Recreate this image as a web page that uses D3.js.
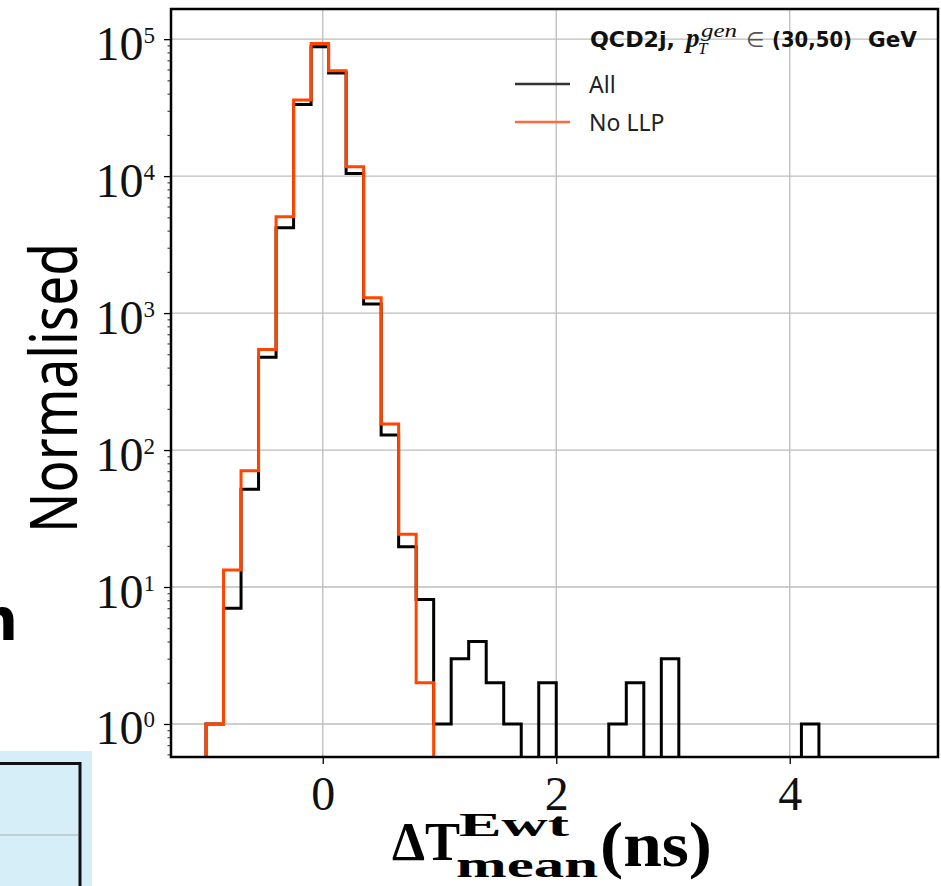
<!DOCTYPE html>
<html><head><meta charset="utf-8">
<script src="https://cdn.jsdelivr.net/npm/d3@7"></script>
<style>body{margin:0;background:#fff;} svg{display:block}</style>
</head><body>
<svg id="chart" width="941" height="886"></svg>
<script>
// ---------------- data ----------------
const binEdges = [-1.0,-0.85,-0.7,-0.55,-0.4,-0.25,-0.1,0.05,0.2,0.35,0.5,0.65,0.8,0.95,1.1,1.25,1.4,1.55,1.7,1.85,2.0,2.15,2.3,2.45,2.6,2.75,2.9,3.05,3.2,3.35,3.5,3.65,3.8,3.95,4.1,4.25,4.4,4.55,4.7,4.85,5.0];
const allValues = [1,7,51.7,475,4195,33350,87900,56700,10470,1163,129,19.7,8.1,1,3,4,2,1,0,2,0,0,0,1,2,0,3,0,0,0,0,0,0,0,1,0,0,0,0,0];
const noLLPValues = [1,13.3,70.6,543,5045,35880,93000,58700,11700,1294,155,24.3,2,0,0,0,0,0,0,0,0,0,0,0,0,0,0,0,0,0,0,0,0,0,0,0,0,0,0,0];
const seriesNames = ["All","No LLP"];
const seriesColors = ["#000000","#ff4500"];
const xTickValues = [0,2,4];
const xTickLabels = ["0","2","4"];
const yTickValues = [1,10,100,1000,10000,100000];
const yTickExponents = ["0","1","2","3","4","5"];
const titleParts = ["QCD2j,","p","T","gen","\u2208","(30,50)","GeV"];
const xLabelParts = ["\u0394T","Ewt","mean","(ns)"];

// ---------------- layout ----------------
const svg = d3.select("#chart");
const L = 171, R = 938, T = 9, B = 757;
const x = d3.scaleLinear().domain([-1.3, 5.27]).range([L, R]);
const y = d3.scaleLog().domain([0.574, 1.66e5]).range([B, T]);

// decorative fragments of neighbouring slide content
svg.append("rect").attr("x",0).attr("y",751).attr("width",92).attr("height",135).attr("fill","#d6eef8");
svg.append("line").attr("x1",0).attr("x2",79).attr("y1",835).attr("y2",835).attr("stroke","#b8c4c8").attr("stroke-width",1.5);
svg.append("path").attr("d","M0,763.5H80V886").attr("fill","none").attr("stroke","#111").attr("stroke-width",3);
svg.append("text").attr("x",18).attr("y",640).attr("text-anchor","end")
  .attr("font-family","DejaVu Sans").attr("font-weight","bold").attr("font-size",58).attr("fill","#000").text("n");

// clip
svg.append("defs").append("clipPath").attr("id","plotclip")
  .append("rect").attr("x",L).attr("y",T).attr("width",R-L).attr("height",B-T);

// grid
const grid = svg.append("g");
grid.selectAll(".gx").data(xTickValues).join("line")
  .attr("x1",d=>x(d)).attr("x2",d=>x(d)).attr("y1",T).attr("y2",B)
  .attr("stroke","#bdbdbd").attr("stroke-width",1.3);
grid.selectAll(".gy").data(yTickValues).join("line")
  .attr("x1",L).attr("x2",R).attr("y1",d=>y(d)).attr("y2",d=>y(d))
  .attr("stroke","#bdbdbd").attr("stroke-width",1.3);

// histograms (step)
function stepPoints(vals){
  const pts = [[binEdges[0], 0]];
  vals.forEach((v,i)=>{ pts.push([binEdges[i], v]); pts.push([binEdges[i+1], v]); });
  pts.push([binEdges[binEdges.length-1], 0]);
  return pts;
}
const line = d3.line().x(d=>x(d[0])).y(d=> d[1] > 0 ? y(d[1]) : B + 30);
const hg = svg.append("g").attr("clip-path","url(#plotclip)");
[allValues, noLLPValues].forEach((vals,i)=>{
  hg.append("path").attr("d", line(stepPoints(vals)))
    .attr("fill","none").attr("stroke",seriesColors[i]).attr("stroke-width",3)
    .attr("stroke-linejoin","miter");
});

// axes
const gx = svg.append("g").attr("transform",`translate(0,${B})`)
  .call(d3.axisBottom(x).tickValues(xTickValues).tickSize(7).tickFormat((d,i)=>xTickLabels[i]));
gx.select(".domain").remove();
gx.selectAll(".tick line").attr("stroke","#000").attr("stroke-width",1.3);
gx.selectAll(".tick text").attr("y",53).attr("dy",0)
  .attr("font-family","Liberation Serif").attr("font-size",48).attr("fill","#111");

const minorTicks = y.ticks().filter(v => Math.abs(Math.log10(v) - Math.round(Math.log10(v))) > 1e-6);
const gym = svg.append("g").attr("transform",`translate(${L},0)`)
  .call(d3.axisLeft(y).tickValues(minorTicks).tickSize(3.5).tickFormat(""));
gym.select(".domain").remove();
gym.selectAll(".tick line").attr("stroke","#222").attr("stroke-width",1);

const gy = svg.append("g").attr("transform",`translate(${L},0)`)
  .call(d3.axisLeft(y).tickValues(yTickValues).tickSize(7).tickFormat(""));
gy.select(".domain").remove();
gy.selectAll(".tick line").attr("stroke","#000").attr("stroke-width",1.3);
gy.selectAll(".tick text").each(function(d,i){
  const t = d3.select(this);
  t.attr("x",-16).attr("y",20).attr("dy",0).attr("text-anchor","end")
   .attr("font-family","Liberation Serif").attr("font-size",48).attr("fill","#111");
  t.append("tspan").text("10");
  t.append("tspan").attr("dy",-17).attr("font-size",23).text(yTickExponents[i]);
});

// spines
svg.append("rect").attr("x",L).attr("y",T).attr("width",R-L).attr("height",B-T)
  .attr("fill","none").attr("stroke","#000").attr("stroke-width",2.5);

// y label
svg.append("text").attr("transform","translate(77,388) rotate(-90)")
  .attr("text-anchor","middle").attr("font-family","Noto Sans").attr("font-size",66)
  .attr("textLength",290).attr("lengthAdjust","spacingAndGlyphs").attr("fill","#000").text("Normalised");

// x label (single text element, math-like layout with tspans)
const xl = svg.append("text").attr("font-family","Liberation Serif").attr("font-weight","bold").attr("fill","#000");
xl.append("tspan").attr("x",392).attr("y",860).attr("font-size",54)
  .attr("textLength",68).attr("lengthAdjust","spacingAndGlyphs").text(xLabelParts[0]);
xl.append("tspan").attr("x",459).attr("y",836).attr("font-size",34)
  .attr("textLength",110).attr("lengthAdjust","spacingAndGlyphs").text(xLabelParts[1]);
xl.append("tspan").attr("x",456).attr("y",877).attr("font-size",36)
  .attr("textLength",142).attr("lengthAdjust","spacingAndGlyphs").text(xLabelParts[2]);
xl.append("tspan").attr("x",600).attr("y",866).attr("font-size",63)
  .attr("textLength",112).attr("lengthAdjust","spacingAndGlyphs").text(xLabelParts[3]);

// title / legend header
const tg = svg.append("g").attr("fill","#111");
function piece(txt, px, py, fam, size, weight, style, len){
  const t = tg.append("text").attr("x",px).attr("y",py).attr("font-family",fam).attr("font-size",size)
    .attr("font-weight",weight||"normal").attr("font-style",style||"normal").text(txt);
  if (len) t.attr("textLength",len).attr("lengthAdjust","spacingAndGlyphs");
  return t;
}
piece(titleParts[0], 590, 47, "DejaVu Sans", 22, "bold", "normal", 85);
piece(titleParts[1], 686, 47, "Liberation Serif", 27, "bold", "italic");
piece(titleParts[2], 698, 54, "Liberation Serif", 17, "normal", "italic");
piece(titleParts[3], 701, 37, "Liberation Serif", 19, "normal", "italic", 36);
piece(titleParts[4], 746, 47, "DejaVu Sans", 21, "normal").attr("fill","#555");
piece(titleParts[5], 772, 47, "DejaVu Sans", 22, "bold", "normal", 80);
piece(titleParts[6], 868, 47, "DejaVu Sans", 22, "bold", "normal", 49);

// legend
const lg = svg.append("g");
seriesNames.forEach((name,i)=>{
  const ly = [84,122][i];
  lg.append("line").attr("x1",515).attr("x2",570).attr("y1",ly).attr("y2",ly)
    .attr("stroke", i===0 ? "#333" : "#ff6a3d").attr("stroke-width",2.5);
  lg.append("text").attr("x",589).attr("y",ly+8.5).attr("font-family","Noto Sans")
    .attr("font-size",23).attr("fill","#222").text(name);
});
</script>
</body></html>
